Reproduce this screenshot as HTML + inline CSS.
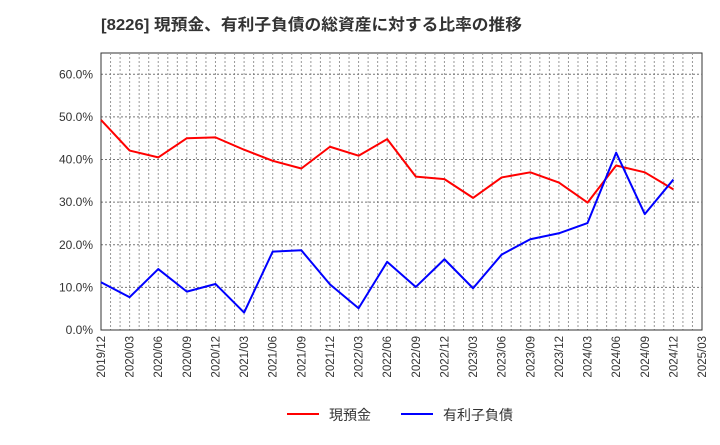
<!DOCTYPE html>
<html><head><meta charset="utf-8"><style>
body{margin:0;background:#fff;width:720px;height:440px;overflow:hidden;font-family:"Liberation Sans","Noto Sans CJK JP",sans-serif;}
</style></head><body>
<svg width="720" height="440" xmlns="http://www.w3.org/2000/svg" style="font-family:'Liberation Sans','Noto Sans CJK JP',sans-serif">
<text x="101" y="30" font-size="16" font-weight="bold" fill="#333" textLength="421" lengthAdjust="spacingAndGlyphs">[8226]  現預金、有利子負債の総資産に対する比率の推移</text>
<g id="grid"></g><g id="axes"></g><g id="series"></g>
<g>
<line x1="287" y1="414" x2="319" y2="414" stroke="#f00" stroke-width="2"/>
<text x="329" y="420" font-size="14" fill="#333">現預金</text>
<line x1="401" y1="414" x2="433" y2="414" stroke="#00f" stroke-width="2"/>
<text x="443" y="420" font-size="14" fill="#333">有利子負債</text>
</g>
</svg>
<script>
const categories=["2019/12","2020/03","2020/06","2020/09","2020/12","2021/03","2021/06","2021/09","2021/12","2022/03","2022/06","2022/09","2022/12","2023/03","2023/06","2023/09","2023/12","2024/03","2024/06","2024/09","2024/12","2025/03"];
const cashRatio=[49.3,42.1,40.5,45.0,45.2,42.3,39.7,37.9,43.0,40.9,44.8,36.0,35.4,31.0,35.8,37.0,34.6,29.9,38.6,37.0,33.0];
const debtRatio=[11.2,7.7,14.3,9.0,10.8,4.1,18.4,18.7,10.7,5.1,16.0,10.1,16.6,9.8,17.7,21.3,22.7,25.1,41.6,27.2,35.3];
const yTicks=[0,10,20,30,40,50,60];
const NS="http://www.w3.org/2000/svg";
const L=101,R=702,T=53,B=330,yMax=65;
const x=i=>L+(R-L)*i/(categories.length-1);
const y=v=>B-(B-T)*v/yMax;
function mk(tag,attrs,parent){const e=document.createElementNS(NS,tag);for(const k in attrs)e.setAttribute(k,attrs[k]);parent.appendChild(e);return e;}
const grid=document.getElementById('grid'),axes=document.getElementById('axes'),series=document.getElementById('series');
mk('rect',{x:L,y:T,width:R-L,height:B-T,fill:'#fff',stroke:'#333','stroke-width':1},grid);
const nMonths=(categories.length-1)*3;
for(let m=1;m<nMonths;m++){const xx=L+(R-L)*m/nMonths;
 mk('line',{x1:xx,y1:T,x2:xx,y2:B,stroke:'#999','stroke-width':1,'stroke-dasharray':'2,2'},grid);}
yTicks.forEach(v=>{
 if(v>0){mk('line',{x1:L,y1:y(v),x2:R,y2:y(v),stroke:'#777','stroke-width':1,'stroke-dasharray':'2,2'},grid);}
 const t=mk('text',{x:L-8,y:y(v)+4,'text-anchor':'end','font-size':12,fill:'#333'},axes);
 
 
 t.textContent=v.toFixed(1)+'%';
});
mk('line',{x1:L,y1:T,x2:L,y2:B,stroke:'#333'},axes);
mk('line',{x1:L,y1:B,x2:R,y2:B,stroke:'#333'},axes);
categories.forEach((c,i)=>{
 const t=mk('text',{x:0,y:0,'text-anchor':'end','font-size':11.5,fill:'#333',transform:`translate(${x(i)+4},${B+6}) rotate(-90)`},axes);
 
 
 t.textContent=c;
});
function line(data,color,name){
 const p=mk('polyline',{points:data.map((v,i)=>x(i)+','+y(v)).join(' '),fill:'none',stroke:color,'stroke-width':2,'stroke-linejoin':'round'},series);
 
 
}
line(cashRatio,'#f00','cash-ratio-line');
line(debtRatio,'#00f','debt-ratio-line');
</script>
</body></html>
